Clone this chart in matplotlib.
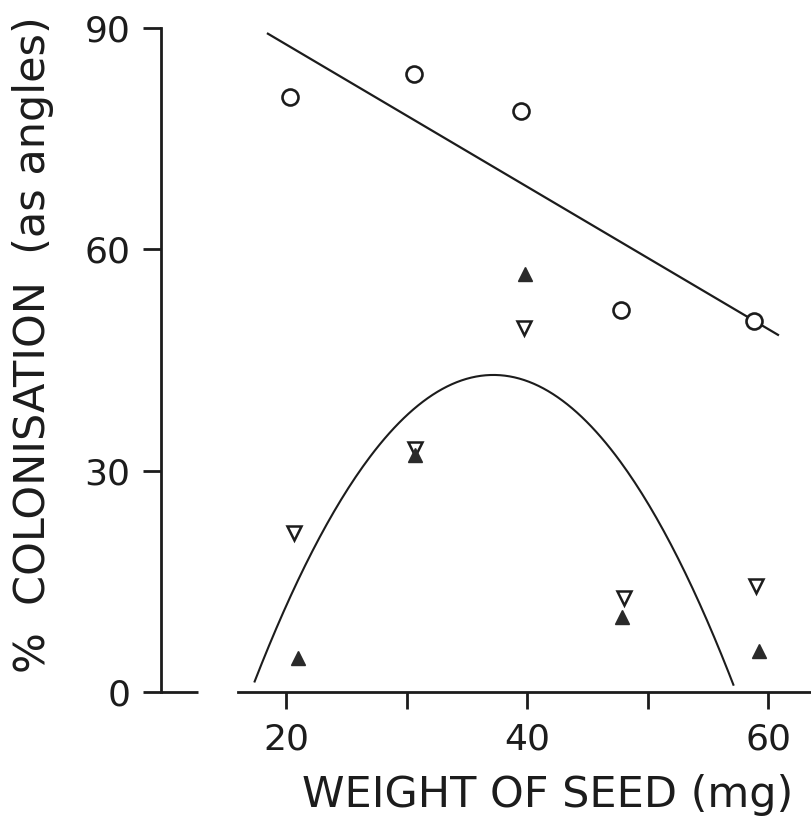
import numpy as np
import matplotlib
matplotlib.use("Agg")
import matplotlib.pyplot as plt

# Seed weight (mg) against % colonisation (angular transform)
circle_x = [20.3, 30.6, 39.5, 47.8, 58.8]
circle_y = [80.6, 83.8, 78.8, 51.8, 50.3]

up_x = [21.0, 30.7, 39.8, 47.9, 59.2]
up_y = [4.6, 32.1, 56.7, 10.1, 5.5]

down_x = [20.7, 30.7, 39.7, 48.0, 59.0]
down_y = [21.5, 32.9, 49.4, 12.7, 14.3]

# fitted quadratic (highest power first) and the span it was drawn over
quad_coef = [-0.106, 7.886, -103.7]
quad_span = (17.4, 57.1)
line_span = (18.5, 60.8)

y_ticks = [0, 30, 60, 90]
x_major = [20, 40, 60]
x_minor = [30, 50]

INK = "#1c1c1c"

fig = plt.figure(figsize=(8.12, 8.18), dpi=100)
ax = fig.add_axes([161 / 812, 126 / 818, 651 / 812, 664 / 818])
ax.set_xlim(9.635, 63.62)
ax.set_ylim(0, 90)

# straight-line fit through the open circles
slope, icpt = np.polyfit(circle_x, circle_y, 1)
lx = np.array(line_span)
ax.plot(lx, slope * lx + icpt, color=INK, lw=1.6, clip_on=False)

qx = np.linspace(quad_span[0], quad_span[1], 200)
ax.plot(qx, np.polyval(quad_coef, qx), color=INK, lw=1.5, clip_on=False)

ax.plot(circle_x, circle_y, "o", ms=11.5, mfc="white", mec=INK, mew=1.9,
        clip_on=False, zorder=3)
ax.plot(down_x, down_y, "v", ms=10.5, mfc="white", mec=INK, mew=1.8,
        clip_on=False, zorder=3)
ax.plot(up_x, up_y, "^", ms=10.5, mfc="#2a2a2a", mec="#2a2a2a", mew=1,
        clip_on=False, zorder=3)

for side in ("top", "right"):
    ax.spines[side].set_visible(False)
ax.spines["left"].set_bounds(0, 90)
ax.spines["bottom"].set_bounds(16.0, 63.62)
for side in ("left", "bottom"):
    ax.spines[side].set_linewidth(2.0)
    ax.spines[side].set_color(INK)

# short stub of the x axis next to the origin
ax.plot([9.635, 12.7], [0, 0], color=INK, lw=2.0, clip_on=False,
        solid_capstyle="butt")

ax.set_yticks(y_ticks)
ax.set_xticks(x_major)
ax.set_xticks(x_minor, minor=True)
ax.tick_params(axis="both", which="both", direction="out", length=13,
               width=2.0, color=INK, labelcolor=INK, labelsize=26)
ax.tick_params(axis="x", which="both", length=12, pad=10)
ax.tick_params(axis="y", pad=9)

fig.text(548 / 812, 11 / 818, "WEIGHT OF SEED (mg)", fontsize=31,
         color=INK, ha="center", va="baseline")
fig.text(33 / 812, 1 - 345 / 818, "%  COLONISATION  (as angles)",
         fontsize=31, color=INK, rotation=90, ha="center", va="center")

fig.savefig("out.png", dpi=100, facecolor="white")
